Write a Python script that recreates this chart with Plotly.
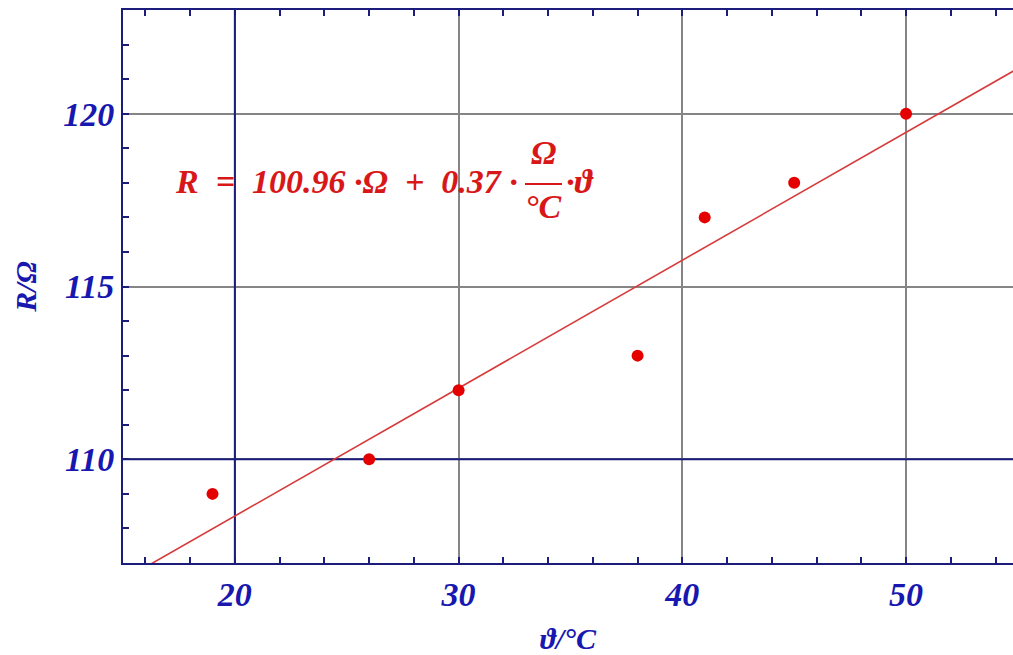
import plotly.graph_objects as go

# Data
theta = [19, 26, 30, 38, 41, 45, 50]          # °C
resistance = [109, 110, 112, 113, 117, 118, 120]  # Ω
fit_theta = [15, 55]
fit_R = [106.51, 121.31]   # R = 100.96 + 0.37*theta
x_ticks = [20, 30, 40, 50]
y_ticks = [110, 115, 120]

W, H = 1013, 655
ML, MR, MT, MB = 123, 0, 10, 92
X0, X1 = 15.0, 54.78
Y0, Y1 = 107.0, 123.0

NAVY = "#1c1c7a"
BLUE = "#1818b0"
RED = "#d81818"
GRAY = "#858585"
FONT = "Liberation Serif"
NB = "\u00a0"

def px2x(px):
    return X0 + (px - ML) / (W - ML - MR) * (X1 - X0)

def py2y(py):
    return Y0 + (H - MB - py) / (H - MB - MT) * (Y1 - Y0)

fig = go.Figure()
fig.add_trace(go.Scatter(x=fit_theta, y=fit_R, mode="lines",
                         line=dict(color="#d83a3a", width=1.6), showlegend=False))
fig.add_trace(go.Scatter(x=theta, y=resistance, mode="markers",
                         marker=dict(color="#e40000", size=12), showlegend=False))

# origin lines (dark)
fig.add_shape(type="line", x0=20, x1=20, y0=Y0, y1=Y1, xref="x", yref="y",
              line=dict(color=NAVY, width=2), layer="between")
fig.add_shape(type="line", x0=X0, x1=X1, y0=110, y1=110, xref="x", yref="y",
              line=dict(color=NAVY, width=2), layer="between")

tf = dict(family=FONT, size=34, color=BLUE, weight="bold", style="italic")
fig.update_xaxes(range=[X0, X1], tickvals=x_ticks, ticks="inside", ticklen=6,
                 tickwidth=2, tickcolor=NAVY, showline=True, linecolor=NAVY, linewidth=2,
                 mirror="ticks", showgrid=True, gridcolor=GRAY, gridwidth=2,
                 zeroline=False, tickfont=tf,
                 minor=dict(dtick=2, ticks="inside", ticklen=6, tickwidth=2,
                            tickcolor=NAVY, showgrid=False),
                 title=dict(text="ϑ/°C", standoff=16,
                            font=dict(family=FONT, size=30, color=BLUE, weight="bold", style="italic")))
fig.update_yaxes(range=[Y0, Y1], tickvals=y_ticks, ticks="inside", ticklen=6,
                 tickwidth=2, tickcolor=NAVY, showline=True, linecolor=NAVY, linewidth=2,
                 mirror=False, showgrid=True, gridcolor=GRAY, gridwidth=2,
                 zeroline=False, tickfont=tf,
                 minor=dict(dtick=1, ticks="inside", ticklen=6, tickwidth=2,
                            tickcolor=NAVY, showgrid=False),
                 title=dict(text="R/Ω", standoff=18,
                            font=dict(family=FONT, size=30, color=BLUE, weight="bold", style="italic")))

ef = dict(family=FONT, size=34, color=RED, weight="bold", style="italic")
eq_left = f"R{NB}{NB}={NB}{NB}100.96{NB}·Ω{NB}{NB}+{NB}{NB}0.37{NB}·"
fig.add_annotation(x=px2x(520), y=py2y(181), xref="x", yref="y", showarrow=False,
                   text=eq_left, xanchor="right", yanchor="middle", font=ef)
fig.add_annotation(x=px2x(543), y=py2y(152), xref="x", yref="y", showarrow=False,
                   text="Ω", xanchor="center", yanchor="middle", font=ef)
fig.add_annotation(x=px2x(543), y=py2y(206), xref="x", yref="y", showarrow=False,
                   text="°C", xanchor="center", yanchor="middle", font=ef)
fig.add_shape(type="line", x0=px2x(525), x1=px2x(562), y0=py2y(184), y1=py2y(184),
              xref="x", yref="y", line=dict(color=RED, width=2))
fig.add_annotation(x=px2x(564), y=py2y(181), xref="x", yref="y", showarrow=False,
                   text="·ϑ", xanchor="left", yanchor="middle", font=ef)

fig.update_layout(width=W, height=H, margin=dict(l=ML, r=MR, t=MT, b=MB),
                  plot_bgcolor="white", paper_bgcolor="white", showlegend=False)

fig.write_html("out.html")
